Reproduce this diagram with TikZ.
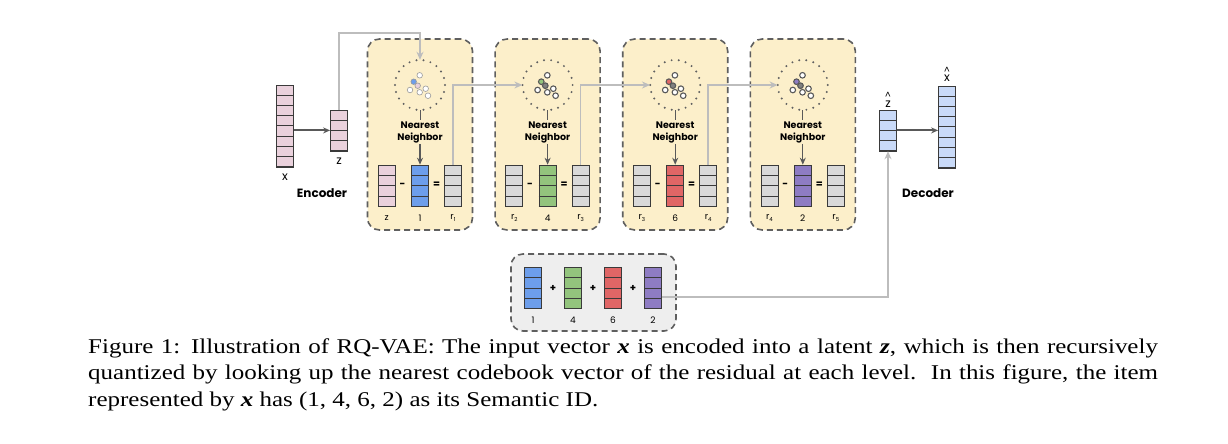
\documentclass[tikz,border=0pt]{standalone}
\usepackage{graphicx}
\usepackage{fontspec}
\usepackage{tikz}
\usetikzlibrary{arrows.meta,positioning,calc}
\newfontfamily\diagfont{Poppins}
\newfontfamily\capfont{Liberation Serif}
\definecolor{StageFill}{HTML}{FCEFCA}
\definecolor{SumFill}{HTML}{EEEEEE}
\definecolor{EdgeGray}{HTML}{5F5F5F}
\definecolor{FlowGray}{HTML}{BDBDBD}
\definecolor{ArrowGray}{HTML}{595959}
\definecolor{BarLine}{HTML}{3A3A3A}
\definecolor{DotGray}{HTML}{606060}
\definecolor{VecPink}{HTML}{EAD1DC}
\definecolor{VecBlue}{HTML}{6D9EEB}
\definecolor{VecGreen}{HTML}{93C47D}
\definecolor{VecRed}{HTML}{E06666}
\definecolor{VecPurple}{HTML}{8E7CC3}
\definecolor{VecGray}{HTML}{D9D9D9}
\definecolor{VecSky}{HTML}{C9DAF8}

% vertical vector of cells: name, position, cells, colour
\newcommand{\vecbar}[4]{%
  \node[vecbox, fill=#4, minimum height=#3*10.2pt] (#1) at #2 {};
  \foreach \k in {1,...,#3}
    \draw[BarLine, line width=0.8pt] ($(#1.north west)!\k/#3!(#1.south west)$)
      -- ($(#1.north east)!\k/#3!(#1.south east)$);
}
\newcommand{\rsub}[1]{r\raisebox{-2.4pt}{\fontsize{5.5}{6}\selectfont #1}}
\newcommand{\bvar}[1]{{\bfseries\itshape #1}}
\newcommand{\hatted}[1]{\shortstack{{\fontsize{9}{9}\selectfont\textasciicircum}\\[-1pt]#1}}
% caption line, widened like the reference
\newcommand{\capline}[2]{\scalebox{1.19}[1]{\makebox[#1][s]{#2}}}

\begin{document}
\begin{tikzpicture}[x=1pt, y=-1pt,
  vecbox/.style={draw=BarLine, line width=0.8pt, minimum width=17pt, inner sep=0pt},
  stagebox/.style={draw=EdgeGray, fill=StageFill, dash pattern=on 6pt off 4pt,
    line width=1.6pt, rounded corners=12pt, minimum width=105pt,
    minimum height=191pt, inner sep=0pt},
  sumbox/.style={stagebox, fill=SumFill, minimum width=165pt, minimum height=77pt},
  cloudspot/.style={circle, minimum size=50pt, inner sep=0pt},
  nnlabel/.style={align=center, inner sep=1pt,
    font=\diagfont\bfseries\fontsize{9.5}{12}\selectfont},
  idlab/.style={inner sep=0pt, font=\diagfont\fontsize{9}{10}\selectfont},
  signlab/.style={inner sep=0pt, font=\diagfont\bfseries\fontsize{10}{12}\selectfont},
  partlab/.style={inner sep=0pt, font=\diagfont\bfseries\fontsize{12}{14}\selectfont},
  varlab/.style={inner sep=0pt, font=\diagfont\fontsize{12}{14}\selectfont},
  ringA/.style={draw=gray!80, line width=0.6pt, fill=white},
  ringB/.style={draw=ArrowGray, line width=1.1pt, fill=white},
  flow/.style={FlowGray, line width=1.5pt, -{Stealth[length=8pt, width=7pt]}},
  dark/.style={ArrowGray, line width=1.3pt, -{Stealth[length=7pt, width=6pt]}},
  tickline/.style={ArrowGray, line width=0.7pt}]
  \fill[white] (0,0) rectangle (1228,444);
  \useasboundingbox (0,0) rectangle (1228,444);

  % encoder
  \vecbar{x}{(285,125.8)}{8}{VecPink}
  \vecbar{z}{(339,130.4)}{4}{VecPink}
  \node[varlab] (xlab) at (285,177) {x};
  \node[varlab] (zlab) at (339,161) {z};
  \node[partlab] (enc) at (322,193) {Encoder};
  \draw[dark, line width=2pt] (x.east |- z) -- (z);

  % quantization stages
  \foreach \i/\cx/\hue/\infill/\dotfill/\ring/\inlab/\outlab/\id in {
      1/420/VecBlue/VecPink/VecPink/ringA/z/\rsub{1}/1,
      2/547.6/VecGreen/VecGray/gray/ringB/\rsub{2}/\rsub{3}/4,
      3/675.2/VecRed/VecGray/gray/ringB/\rsub{3}/\rsub{4}/6,
      4/802.8/VecPurple/VecGray/gray/ringB/\rsub{4}/\rsub{5}/2}{
    \node[stagebox] (stage\i) at (\cx,134.5) {};
    \node[cloudspot] (cloud\i) at (\cx,85) {};
    \foreach \a in {0,16.36,...,344}
      \fill[DotGray] ($(cloud\i)+(\a:25)$) circle (1.1pt);
    \foreach \dx/\dy in {-0.3/-9.7, -10/5, -0.3/7.3, 5.7/3.7, 8/10.7}
      \draw[\ring] ($(cloud\i)+(\dx,\dy)$) circle (2.8pt);
    \draw[\ring, fill=\hue] ($(cloud\i)+(-6.3,-3.3)$) circle (2.8pt);
    \draw[\ring, fill=\dotfill] ($(cloud\i)+(-2.3,0.7)$) circle (2.8pt);
    \node[nnlabel] (nn\i) at (\cx,132) {Nearest\\Neighbor};
    \draw[tickline] (cloud\i.south) -- (nn\i.north);
    \vecbar{in\i}{(\cx-33.3,185.5)}{4}{\infill}
    \vecbar{code\i}{(\cx,185.5)}{4}{\hue}
    \vecbar{out\i}{(\cx+33,185.5)}{4}{VecGray}
    \node[signlab] (minus\i) at (\cx-17.5,185) {-};
    \node[signlab] (eq\i) at (\cx+16.5,185) {=};
    \node[idlab] (inl\i) at (\cx-33.3,218) {\inlab};
    \node[idlab] (codel\i) at (\cx,218) {\id};
    \node[idlab] (outl\i) at (\cx+33,218) {\outlab};
    \draw[dark] (nn\i.south) -- (code\i.north);
  }

  % residual flow
  \coordinate (feed) at (420,33);
  \draw[flow] (z.north) |- (feed) -- (cloud1.north);
  \foreach \i/\j in {1/2, 2/3, 3/4}
    \draw[flow] (out\i.north) |- (cloud\j.west);

  % semantic id sum
  \node[sumbox] (sum) at (593.5,292.5) {};
  \foreach \i/\sx/\hue/\id in {1/533/VecBlue/1, 2/573/VecGreen/4,
      3/613/VecRed/6, 4/653/VecPurple/2}{
    \vecbar{s\i}{(\sx,288)}{4}{\hue}
    \node[idlab] (sl\i) at (\sx,320) {\id};
  }
  \foreach \i/\px in {1/553, 2/593, 3/633}
    \node[signlab] (plus\i) at (\px,288) {+};

  % decoder
  \vecbar{zhat}{(888,130.4)}{4}{VecSky}
  \vecbar{xhat}{(947,126.8)}{8}{VecSky}
  \node[varlab, anchor=south] (zhlab) at (888,107.5) {\hatted{z}};
  \node[varlab, anchor=south] (xhlab) at (947,82) {\hatted{x}};
  \node[partlab] (dec) at (928,193) {Decoder};
  \draw[dark, line width=2pt] (zhat) -- (zhat -| xhat.west);
  \coordinate (sumout) at ([yshift=-9pt]s4.east);
  \draw[flow] (sumout) -| (zhat.south);

  % caption
  \begin{scope}[every node/.style={anchor=base west, inner sep=0pt,
      font=\capfont\fontsize{21}{26}\selectfont}]
    \node (cap1) at (88,353) {\capline{899pt}{Figure 1: Illustration of RQ-VAE: The input vector \bvar{x} is encoded into a latent \bvar{z}, which is then recursively}};
    \node (cap2) at (88,379.5) {\capline{899pt}{quantized by looking up the nearest codebook vector of the residual at each level.\ \ In this figure, the item}};
    \node (cap3) at (88,406) {\scalebox{1.19}[1]{represented by \bvar{x} has (1, 4, 6, 2) as its Semantic ID.}};
  \end{scope}
\end{tikzpicture}
\end{document}
